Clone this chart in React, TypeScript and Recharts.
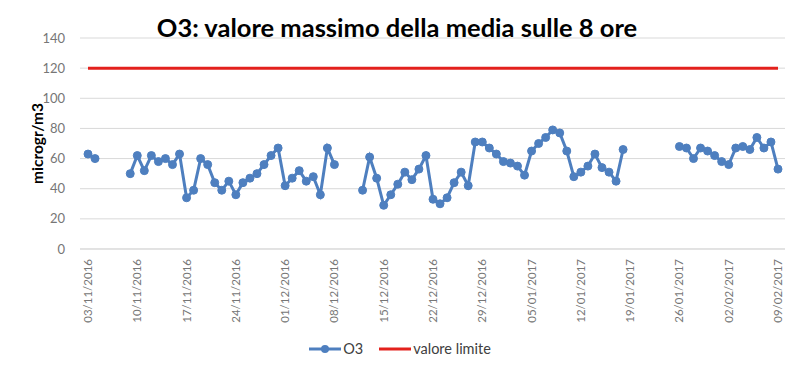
import { CartesianGrid, Label, Line, LineChart, XAxis, YAxis } from "recharts"

// daily max of 8h moving average, 03/11/2016 .. 09/02/2017 (null = no data)
const o3Values: (number | null)[] = [
  63, 60, null, null, null, null, 50, 62, 52, 62, 58, 60, 56, 63, 34, 39, 60, 56, 44, 39, 45,
  36, 44, 47, 50, 56, 62, 67, 42, 47, 52, 45, 48, 36, 67, 56, null, null, null, 39, 61, 47,
  29, 36, 43, 51, 46, 53, 62, 33, 30, 34, 44, 51, 42, 71, 71, 67, 63, 58, 57, 55, 49, 65,
  70, 74, 79, 77, 65, 48, 51, 55, 63, 54, 51, 45, 66, null, null, null, null, null, null, null,
  68, 67, 60, 67, 65, 62, 58, 56, 67, 68, 66, 74, 67, 71, 53,
]

const LIMIT = 120

const xTicks = [
  "03/11/2016", "10/11/2016", "17/11/2016", "24/11/2016", "01/12/2016",
  "08/12/2016", "15/12/2016", "22/12/2016", "29/12/2016", "05/01/2017",
  "12/01/2017", "19/01/2017", "26/01/2017", "02/02/2017", "09/02/2017",
]

const yTicks = [0, 20, 40, 60, 80, 100, 120, 140]

const pad = (n: number) => String(n).padStart(2, "0")

// one category per day starting from the first tick label
const dates = o3Values.map((_, i) => {
  const d = new Date(2016, 10, 3 + i)
  return `${pad(d.getDate())}/${pad(d.getMonth() + 1)}/${d.getFullYear()}`
})

const data = dates.map((date, i) => ({ date, o3: o3Values[i], limite: LIMIT }))

const BLUE = "#4E7FBF"
const RED = "#E3211C"
const GREY = "#767676"
const FONT = "Lato, 'Liberation Sans', sans-serif"

const DateTick = (props: any) => {
  const { x, y, payload } = props
  return (
    <g transform={`translate(${x},${y})`}>
      <text transform="rotate(-90)" x={-2} y={0} dy="0.35em" textAnchor="end" fill={GREY} fontSize={11.5} fontFamily={FONT}>
        {payload.value}
      </text>
    </g>
  )
}

export default function App() {
  return (
    <div style={{ position: "absolute", left: 0, top: 0, width: 800, height: 376, background: "#fff", fontFamily: FONT }}>
      <div
        style={{
          position: "absolute",
          top: 12,
          left: 0,
          width: 794,
          textAlign: "center",
          fontSize: 25.5,
          lineHeight: "30px",
          fontWeight: 700,
          color: "#000",
        }}
      >
        O3: valore massimo della media sulle 8 ore
      </div>
      <LineChart width={800} height={376} data={data} margin={{ top: 38, right: 15, left: 0, bottom: 57 }}>
        <CartesianGrid vertical={false} stroke="#d9d9d9" />
        <XAxis
          dataKey="date"
          ticks={xTicks}
          interval={0}
          tick={<DateTick />}
          tickLine={false}
          axisLine={{ stroke: "#d9d9d9" }}
          height={70}
          padding={{ left: 8, right: 7 }}
        />
        <YAxis
          domain={[0, 140]}
          ticks={yTicks}
          width={80}
          tickLine={false}
          axisLine={false}
          tickMargin={9}
          tick={{ fill: GREY, fontSize: 13, fontFamily: FONT }}
        >
          <Label
            value="microgr/m3"
            angle={-90}
            position="insideLeft"
            offset={37}
            style={{ textAnchor: "middle", fontWeight: 700, fontSize: 15.5, fill: "#000", fontFamily: FONT }}
          />
        </YAxis>
        <Line
          dataKey="limite"
          name="valore limite"
          stroke={RED}
          strokeWidth={3}
          dot={false}
          activeDot={false}
          isAnimationActive={false}
        />
        <Line
          dataKey="o3"
          name="O3"
          stroke={BLUE}
          strokeWidth={3}
          dot={{ r: 4, fill: BLUE, stroke: BLUE, strokeWidth: 1 }}
          activeDot={false}
          isAnimationActive={false}
        />
      </LineChart>
      <div
        style={{
          position: "absolute",
          top: 340,
          left: 0,
          width: 800,
          display: "flex",
          justifyContent: "center",
          gap: 16,
          fontSize: 14.5,
          color: "#404040",
        }}
      >
        <span style={{ display: "flex", alignItems: "center", gap: 2 }}>
          <svg width={32} height={10}>
            <line x1={0} y1={5} x2={32} y2={5} stroke={BLUE} strokeWidth={3} />
            <circle cx={16} cy={5} r={4} fill={BLUE} />
          </svg>
          O3
        </span>
        <span style={{ display: "flex", alignItems: "center", gap: 2 }}>
          <svg width={32} height={10}>
            <line x1={0} y1={5} x2={32} y2={5} stroke={RED} strokeWidth={3} />
          </svg>
          valore limite
        </span>
      </div>
    </div>
  )
}
